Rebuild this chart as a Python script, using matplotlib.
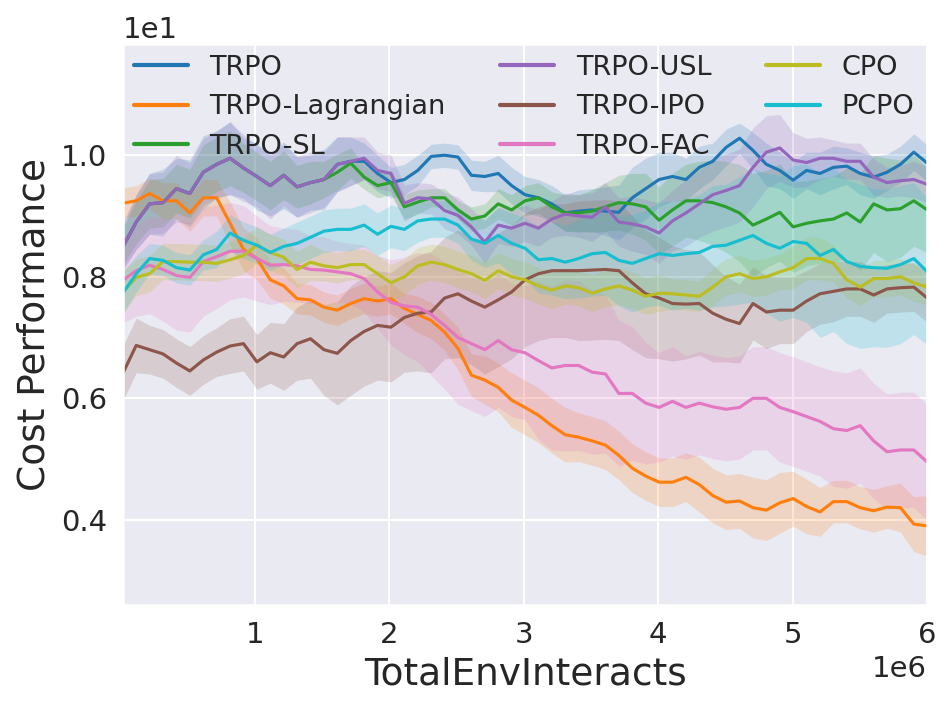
import numpy as np
import matplotlib
matplotlib.use("Agg")
import matplotlib.pyplot as plt
import seaborn as sns

# x grid (env interacts)
steps = np.linspace(0.02e6, 6.0e6, 61)

# mean cost curves
trpo = [8.49, 8.9, 9.2, 9.22, 9.45, 9.37, 9.72, 9.85, 9.95, 9.79, 9.65, 9.5, 9.67, 9.48, 9.55,
        9.6, 9.85, 9.9, 9.9, 9.7, 9.55, 9.6, 9.75, 9.98, 10.0, 9.97, 9.67, 9.65, 9.7, 9.5, 9.35,
        9.3, 9.2, 9.05, 9.08, 9.1, 9.08, 9.06, 9.3, 9.45, 9.6, 9.65, 9.6, 9.8, 9.9, 10.13,
        10.28, 10.08, 9.85, 9.75, 9.59, 9.75, 9.7, 9.8, 9.82, 9.7, 9.64, 9.72, 9.85, 10.05, 9.87]
trpo_lag = [9.21, 9.25, 9.37, 9.25, 9.25, 9.05, 9.3, 9.3, 8.88, 8.45, 8.3, 7.95, 7.85, 7.64,
            7.62, 7.5, 7.45, 7.56, 7.64, 7.6, 7.64, 7.48, 7.38, 7.28, 7.09, 6.82, 6.38, 6.3,
            6.18, 5.97, 5.85, 5.72, 5.55, 5.4, 5.36, 5.3, 5.23, 5.06, 4.85, 4.72, 4.62, 4.62,
            4.7, 4.58, 4.4, 4.29, 4.31, 4.2, 4.16, 4.28, 4.35, 4.22, 4.13, 4.3, 4.3, 4.2, 4.15,
            4.21, 4.2, 3.93, 3.9]
trpo_sl = [8.49, 8.9, 9.2, 9.22, 9.45, 9.37, 9.72, 9.85, 9.95, 9.79, 9.65, 9.5, 9.67, 9.48,
           9.55, 9.6, 9.72, 9.87, 9.64, 9.5, 9.55, 9.15, 9.23, 9.3, 9.3, 9.1, 8.95, 9.0, 9.2,
           9.1, 9.25, 9.3, 9.15, 9.05, 9.05, 9.08, 9.15, 9.22, 9.2, 9.15, 8.93, 9.1, 9.25, 9.25,
           9.22, 9.15, 9.05, 8.85, 8.95, 9.06, 8.82, 8.88, 8.92, 8.95, 9.05, 8.9, 9.2, 9.1,
           9.12, 9.25, 9.1]
trpo_usl = [8.49, 8.9, 9.2, 9.22, 9.45, 9.37, 9.72, 9.85, 9.95, 9.79, 9.65, 9.5, 9.67, 9.48,
            9.55, 9.6, 9.85, 9.9, 9.95, 9.75, 9.7, 9.21, 9.3, 9.28, 9.09, 9.01, 8.82, 8.57,
            8.85, 8.8, 8.88, 8.8, 8.95, 9.03, 9.0, 8.98, 9.15, 8.9, 8.87, 8.82, 8.72, 8.92,
            9.05, 9.2, 9.35, 9.42, 9.5, 9.8, 10.05, 10.12, 9.92, 9.88, 9.95, 9.95, 9.9, 9.9,
            9.64, 9.55, 9.58, 9.6, 9.52]
trpo_ipo = [6.41, 6.87, 6.8, 6.73, 6.58, 6.45, 6.63, 6.76, 6.86, 6.9, 6.6, 6.75, 6.68, 6.9,
            6.98, 6.8, 6.74, 6.95, 7.1, 7.2, 7.17, 7.33, 7.4, 7.42, 7.65, 7.72, 7.6, 7.5, 7.62,
            7.75, 7.95, 8.05, 8.1, 8.1, 8.1, 8.11, 8.12, 8.1, 7.9, 7.72, 7.65, 7.56, 7.55, 7.56,
            7.4, 7.3, 7.23, 7.56, 7.42, 7.45, 7.45, 7.6, 7.72, 7.76, 7.8, 7.8, 7.7, 7.8, 7.82,
            7.83, 7.65]
trpo_fac = [7.94, 8.1, 8.19, 8.12, 8.02, 7.99, 8.25, 8.33, 8.42, 8.42, 8.3, 8.19, 8.2, 8.18,
            8.12, 8.11, 8.08, 8.05, 7.97, 7.75, 7.58, 7.52, 7.5, 7.38, 7.2, 7.0, 6.9, 6.8, 6.95,
            6.8, 6.75, 6.62, 6.5, 6.54, 6.54, 6.43, 6.4, 6.08, 6.08, 5.92, 5.85, 5.95, 5.85,
            5.92, 5.86, 5.82, 5.85, 6.0, 6.0, 5.85, 5.78, 5.7, 5.62, 5.5, 5.47, 5.55, 5.3, 5.12,
            5.15, 5.15, 4.95]
cpo = [7.75, 7.99, 8.05, 8.25, 8.25, 8.24, 8.24, 8.22, 8.28, 8.35, 8.52, 8.4, 8.32, 8.12,
       8.24, 8.18, 8.15, 8.2, 8.2, 8.05, 7.9, 8.0, 8.18, 8.24, 8.2, 8.12, 8.05, 7.94, 8.1, 8.0,
       7.95, 7.85, 7.78, 7.85, 7.82, 7.73, 7.8, 7.85, 7.78, 7.68, 7.73, 7.72, 7.7, 7.68, 7.83,
       8.0, 8.05, 7.97, 8.0, 8.08, 8.15, 8.3, 8.3, 8.22, 7.95, 7.83, 7.97, 7.97, 8.0, 7.9, 7.83]
pcpo = [7.73, 8.05, 8.3, 8.27, 8.15, 8.11, 8.36, 8.45, 8.72, 8.6, 8.52, 8.4, 8.5, 8.55, 8.65,
        8.75, 8.78, 8.78, 8.85, 8.7, 8.83, 8.78, 8.92, 8.95, 8.95, 8.85, 8.62, 8.55, 8.68, 8.55,
        8.47, 8.28, 8.3, 8.24, 8.3, 8.38, 8.4, 8.27, 8.22, 8.3, 8.38, 8.35, 8.38, 8.4, 8.5,
        8.52, 8.6, 8.68, 8.55, 8.47, 8.58, 8.55, 8.35, 8.45, 8.25, 8.17, 8.15, 8.14, 8.2, 8.3,
        8.08]

# half-widths of the shaded bands
trpo_sd = [0.35, 0.45, 0.5, 0.55, 0.5, 0.55, 0.6, 0.55, 0.6, 0.5, 0.55, 0.5, 0.55, 0.5, 0.45,
           0.5, 0.45, 0.4, 0.3, 0.3, 0.25, 0.25, 0.25, 0.2, 0.2, 0.2, 0.25, 0.25, 0.3, 0.3, 0.3,
           0.3, 0.3, 0.3, 0.35, 0.35, 0.4, 0.45, 0.5, 0.5, 0.45, 0.4, 0.35, 0.35, 0.3, 0.3,
           0.25, 0.3, 0.35, 0.3, 0.3, 0.3, 0.35, 0.35, 0.3, 0.35, 0.35, 0.3, 0.3, 0.3, 0.3]
trpo_lag_sd = [0.25, 0.25, 0.25, 0.3, 0.3, 0.3, 0.3, 0.3, 0.35, 0.35, 0.35, 0.3, 0.3, 0.25,
               0.25, 0.25, 0.25, 0.25, 0.25, 0.25, 0.25, 0.25, 0.3, 0.3, 0.3, 0.35, 0.35, 0.4,
               0.4, 0.45, 0.45, 0.45, 0.45, 0.45, 0.4, 0.4, 0.4, 0.4, 0.4, 0.4, 0.4, 0.4, 0.4,
               0.45, 0.45, 0.45, 0.45, 0.5, 0.5, 0.5, 0.45, 0.45, 0.4, 0.35, 0.35, 0.35, 0.35,
               0.35, 0.4, 0.45, 0.5]
trpo_sl_sd = [0.3, 0.35, 0.4, 0.4, 0.4, 0.4, 0.45, 0.45, 0.45, 0.4, 0.4, 0.4, 0.4, 0.35, 0.35,
              0.3, 0.3, 0.25, 0.2, 0.2, 0.2, 0.2, 0.2, 0.15, 0.15, 0.15, 0.2, 0.2, 0.25, 0.25,
              0.25, 0.25, 0.25, 0.3, 0.3, 0.35, 0.4, 0.45, 0.5, 0.55, 0.55, 0.6, 0.6, 0.65, 0.7,
              0.75, 0.8, 0.85, 0.8, 0.8, 0.75, 0.7, 0.7, 0.7, 0.75, 0.8, 0.8, 0.85, 0.8, 0.75, 0.7]
trpo_usl_sd = [0.4, 0.45, 0.5, 0.5, 0.55, 0.5, 0.55, 0.55, 0.6, 0.55, 0.5, 0.55, 0.5, 0.5, 0.5,
               0.45, 0.45, 0.4, 0.35, 0.3, 0.3, 0.3, 0.25, 0.25, 0.3, 0.3, 0.3, 0.35, 0.3, 0.3,
               0.3, 0.3, 0.3, 0.35, 0.35, 0.4, 0.4, 0.4, 0.45, 0.45, 0.5, 0.5, 0.55, 0.55, 0.6,
               0.6, 0.6, 0.65, 0.6, 0.55, 0.45, 0.4, 0.35, 0.3, 0.3, 0.3, 0.3, 0.25, 0.25, 0.3, 0.3]
trpo_ipo_sd = [0.45, 0.45, 0.4, 0.4, 0.4, 0.4, 0.4, 0.4, 0.45, 0.45, 0.45, 0.5, 0.55, 0.6,
               0.65, 0.75, 0.85, 0.9, 0.9, 0.9, 0.9, 0.9, 0.95, 1.0, 1.0, 1.05, 1.05, 1.1, 1.1,
               1.1, 1.1, 1.1, 1.1, 1.1, 1.15, 1.15, 1.15, 1.15, 1.1, 1.05, 1.0, 0.95, 0.9, 0.85,
               0.8, 0.7, 0.65, 0.6, 0.6, 0.55, 0.55, 0.5, 0.5, 0.5, 0.45, 0.45, 0.45, 0.4, 0.4,
               0.4, 0.4]
trpo_fac_sd = [0.7, 0.75, 0.8, 0.85, 0.9, 0.9, 0.9, 0.85, 0.8, 0.75, 0.7, 0.65, 0.6, 0.6,
               0.55, 0.55, 0.5, 0.5, 0.55, 0.6, 0.7, 0.8, 0.9, 1.0, 1.05, 1.1, 1.1, 1.1, 1.1,
               1.1, 1.1, 1.3, 1.35, 1.4, 1.4, 1.35, 1.3, 1.2, 1.1, 1.0, 0.9, 0.9, 0.85, 0.85,
               0.85, 0.85, 0.85, 0.85, 0.85, 0.9, 0.9, 0.9, 0.9, 0.95, 0.95, 0.95, 0.95, 0.95,
               0.95, 0.95, 0.95]
cpo_sd = [0.35, 0.3, 0.3, 0.3, 0.3, 0.3, 0.3, 0.3, 0.3, 0.3, 0.3, 0.3, 0.3, 0.3, 0.3, 0.25,
          0.25, 0.25, 0.25, 0.3, 0.3, 0.3, 0.3, 0.3, 0.3, 0.3, 0.3, 0.3, 0.3, 0.3, 0.3, 0.3,
          0.3, 0.3, 0.3, 0.3, 0.3, 0.3, 0.3, 0.3, 0.3, 0.25, 0.25, 0.25, 0.3, 0.3, 0.3, 0.3,
          0.3, 0.3, 0.35, 0.35, 0.35, 0.3, 0.3, 0.3, 0.3, 0.3, 0.3, 0.3, 0.3]
pcpo_sd = [0.35, 0.3, 0.25, 0.25, 0.25, 0.25, 0.25, 0.3, 0.3, 0.3, 0.3, 0.3, 0.3, 0.35, 0.35,
           0.35, 0.35, 0.35, 0.35, 0.35, 0.35, 0.35, 0.35, 0.3, 0.3, 0.3, 0.35, 0.4, 0.45, 0.5,
           0.5, 0.55, 0.6, 0.6, 0.65, 0.7, 0.7, 0.75, 0.8, 0.8, 0.85, 0.9, 0.9, 0.95, 1.0, 1.0,
           1.05, 1.1, 1.15, 1.2, 1.25, 1.3, 1.35, 1.35, 1.35, 1.35, 1.3, 1.3, 1.3, 1.25, 1.2]

labels = ["TRPO", "TRPO-Lagrangian", "TRPO-SL", "TRPO-USL", "TRPO-IPO", "TRPO-FAC", "CPO", "PCPO"]
means = [trpo, trpo_lag, trpo_sl, trpo_usl, trpo_ipo, trpo_fac, cpo, pcpo]
sds = [trpo_sd, trpo_lag_sd, trpo_sl_sd, trpo_usl_sd, trpo_ipo_sd, trpo_fac_sd, cpo_sd, pcpo_sd]
colors = ["#1f77b4", "#ff7f0e", "#2ca02c", "#9467bd", "#8c564b", "#e377c2", "#bcbd22", "#17becf"]

sns.set_theme(style="darkgrid")
plt.rcParams["font.family"] = ["DejaVu Sans"]

fig = plt.figure(figsize=(952 / 150, 710 / 150), dpi=150)
ax = fig.add_subplot(111)
fig.subplots_adjust(left=0.129, right=0.974, top=0.938, bottom=0.148)

for name, m, s, c in zip(labels, means, sds, colors):
    m = np.array(m)
    s = np.array(s)
    ax.plot(steps, m, color=c, lw=1.5, label=name)
    ax.fill_between(steps, m - s, m + s, color=c, alpha=0.2, lw=0)

ax.set_xlim(steps[0], steps[-1])
ax.set_ylim(2.6, 11.83)
ax.set_yticks([4, 6, 8, 10])
ax.ticklabel_format(style="sci", axis="y", scilimits=(0, 0))
ax.ticklabel_format(style="sci", axis="x", scilimits=(0, 0))
ax.tick_params(labelsize=14, length=0, pad=7.5)
ax.xaxis.get_offset_text().set_fontsize(14)
ax.yaxis.get_offset_text().set_fontsize(14)
ax.set_xlabel("TotalEnvInteracts", fontsize=18)
ax.set_ylabel("Cost Performance", fontsize=18)

leg = ax.legend(loc="upper left", ncol=3, fontsize=13, frameon=False, borderaxespad=0)
for line in leg.get_lines():
    line.set_linewidth(2.0)

fig.savefig("out.png", dpi=150)
